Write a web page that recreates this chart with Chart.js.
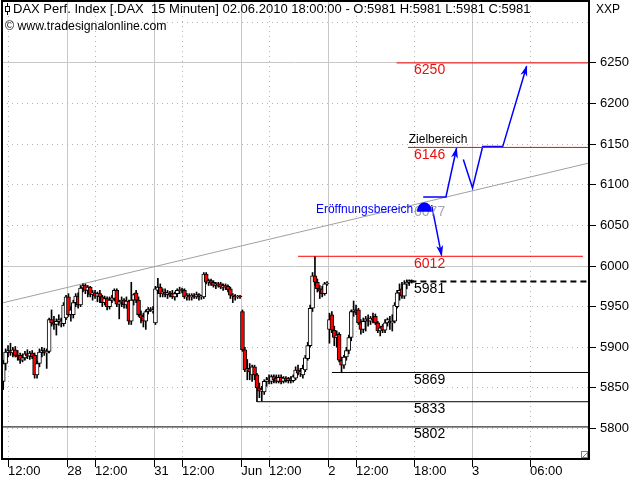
<!DOCTYPE html>
<html><head><meta charset="utf-8">
<script src="https://cdn.jsdelivr.net/npm/chart.js@4.4.1/dist/chart.umd.min.js"></script>
<style>html,body{margin:0;padding:0;background:#fff;overflow:hidden}canvas{display:block}</style>
</head><body>
<canvas id="c" width="640" height="480"></canvas>
<script>
// ---------- DATA (15-minute bars, one slot per bar; future slots continue at 15 min) ----------
const opens = [5858,5880,5894,5896,5893,5897,5890,5890,5884,5887,5892,5889,5893,5890,5866,5880,5894,5896,5893,5895,5934,5930,5928,5932,5930,5929,5936,
5962,5940,5940,5955,5963,5952,5973,5976,5970,5974,5965,5967,5963,5966,5962,5955,5960,5950,5958,5960,5970,5953,5956,5958,5952,5957,5932,5958,5967,5958,5940,5938,5932,5944,5947,5945,
5930,5970,5974,5966,5968,5965,5967,5966,5962,5966,5970,5971,5970,5962,5964,5962,5964,5962,5965,5962,5962,5990,5980,5982,5980,5976,5978,5978,5974,5976,5975,5972,5964,5963,5962,5963,
5944,5897,5872,5874,5866,5876,5866,5850,5846,5845,5858,5860,5858,5864,5862,5858,5863,5858,5862,5859,5862,5859,5862,5872,5868,5866,5872,5886,5902,5948,5988,5980,5972,5972,5966,5978,
5922,5940,5921,5912,5916,5884,5878,5888,5896,5912,5944,5946,5946,5930,5922,5932,5935,5932,5936,5938,5930,5920,5926,5921,5930,5932,5930,5932,5950,5967,5972,5963,5978,5980,5982,5981];
const highs = [5884,5898,5902,5905,5900,5901,5896,5893,5892,5895,5897,5895,5896,5893,5883,5898,5900,5899,5898,5936,5946,5938,5935,5940,5936,5955,5964,
5966,5950,5958,5966,5967,5976,5978,5978,5976,5975,5970,5970,5968,5970,5964,5963,5962,5962,5964,5972,5972,5958,5962,5960,5962,5958,5980,5966,5970,5962,5945,5942,5946,5949,5949,5950,
5975,5985,5978,5972,5972,5970,5969,5970,5968,5972,5974,5973,5972,5966,5966,5966,5966,5968,5966,5964,5992,5992,5984,5984,5982,5980,5980,5980,5978,5978,5977,5974,5966,5965,5964,5964,
5946,5900,5885,5880,5878,5878,5868,5856,5852,5860,5863,5866,5866,5866,5866,5866,5866,5864,5864,5863,5864,5866,5876,5878,5874,5878,5890,5906,5952,5992,6012,5984,5976,5975,5980,5981,
5942,5944,5926,5920,5918,5888,5890,5900,5915,5946,5957,5952,5948,5934,5936,5938,5940,5938,5942,5941,5932,5926,5928,5934,5936,5938,5940,5955,5970,5978,5980,5982,5983,5983,5983,5981];
const lows = [5848,5872,5888,5890,5888,5888,5884,5880,5882,5884,5886,5885,5886,5862,5862,5876,5888,5890,5874,5893,5926,5922,5915,5927,5925,5926,5934,
5938,5932,5936,5950,5948,5950,5968,5966,5962,5962,5958,5960,5956,5955,5950,5952,5946,5947,5955,5957,5950,5935,5950,5948,5948,5928,5928,5952,5955,5938,5930,5925,5922,5941,5944,5942,
5928,5966,5962,5962,5962,5960,5962,5960,5958,5962,5966,5967,5960,5958,5958,5958,5960,5960,5958,5959,5960,5978,5976,5976,5974,5972,5974,5972,5970,5971,5968,5960,5955,5958,5960,5960,
5895,5870,5860,5860,5858,5860,5833,5838,5834,5842,5852,5855,5855,5856,5856,5856,5855,5856,5857,5856,5856,5857,5860,5866,5864,5862,5870,5884,5900,5944,5976,5968,5960,5962,5964,5976,
5905,5918,5902,5900,5882,5869,5874,5884,5892,5908,5938,5940,5928,5916,5918,5920,5926,5928,5930,5928,5918,5914,5918,5918,5926,5922,5920,5930,5948,5958,5960,5960,5972,5976,5979,5981];
const closes = [5880,5894,5896,5893,5897,5890,5888,5884,5887,5892,5889,5893,5888,5866,5880,5894,5896,5893,5895,5934,5930,5928,5932,5934,5932,5952,5962,
5940,5946,5955,5963,5952,5973,5976,5970,5974,5965,5967,5963,5966,5962,5955,5960,5950,5958,5961,5970,5953,5956,5958,5952,5957,5932,5958,5965,5958,5940,5936,5932,5944,5947,5945,5946,
5972,5974,5966,5968,5965,5967,5964,5962,5966,5970,5971,5970,5962,5964,5962,5964,5962,5965,5962,5963,5990,5980,5982,5979,5976,5978,5977,5974,5976,5974,5971,5964,5963,5962,5963,5962,
5897,5872,5874,5870,5876,5866,5850,5846,5848,5858,5860,5862,5864,5860,5858,5863,5858,5862,5859,5861,5859,5864,5872,5868,5870,5874,5887,5902,5948,5988,5980,5972,5969,5966,5978,5979,
5934,5921,5912,5915,5884,5878,5888,5896,5912,5944,5946,5943,5930,5922,5932,5935,5932,5936,5934,5930,5920,5924,5921,5930,5934,5930,5932,5952,5967,5970,5963,5978,5980,5982,5980,5981];

// x-axis ticks (slot positions) and their labels
const xTickSlots  = [2, 26.5, 38, 62.5, 74, 98.5, 110, 134.5, 146, 170, 194, 218];
const xTickLabels = ['12:00','28','12:00','31','12:00','Jun','12:00','2','12:00','18:00','3','06:00'];
const xTickIsDay  = [false,true,false,true,false,true,false,true,false,false,true,false];

// y-axis ticks
const yTickValues = [5800,5850,5900,5950,6000,6050,6100,6150,6200,6250,6300];
const yTickLabels = ['5800','5850','5900','5950','6000','6050','6100','6150','6200','6250',''];

// horizontal levels
const levelValues = [6250, 6146, 6012, 5981, 5869, 5833, 5802];
const levelFrom   = [162.8, 167.5, 122.0, 168.5, 136.0, 105.0, -0.5];
const levelTo     = [242.4, 242.4, 239.9, 242.4, 242.4, 242.4, 242.4];
const levelKind   = ['target','target','target','last','support','support','support'];
const openLevel = 6077;

// trend line
const trendSlots  = [-0.5, 242.4];
const trendValues = [5954.5, 6126.8];

// projected paths (blue arrows)
const pathASlots = [173.8, 183.2, 187.6],               pathAValues = [6085, 6085, 6145];
const pathBSlots = [190.4, 194.2, 198.4, 206.7, 216.6], pathBValues = [6131, 6096, 6147, 6147, 6246];
const pathCSlots = [177.3, 181.4],                      pathCValues = [6075, 6013];
const openMarkSlot = 174.3, openMarkValue = 6066.8;
const zielSlot = 167.8, zielValue = 6151.8;
const eroeffSlot = 169.6, eroeffValue = 6065.2;

// ---------- STYLES ----------
const BLUE = '#0000ff';
const FONT = '"Liberation Sans", Arial, sans-serif';
const kindStyle = {
  target:  {color:'#ff0000', width:1, dash:[], label:'#e81010'},
  last:    {color:'#000000', width:2, dash:[6,4], label:'#000000'},
  support: {color:'#000000', width:1, dash:[], label:'#000000'}
};
const n = closes.length;
const slots = closes.map((_, i) => i);
const LABEL_SLOT = slots[n-1];

const datasets = [];
datasets.push({
  type:'bar', label:'body', order:1, grouped:false, barThickness:4,
  data: slots.map(i => ({x:i, y:[opens[i], closes[i]]})),
  backgroundColor: slots.map(i => closes[i] >= opens[i] ? '#ffffff' : '#ff0000'),
  borderColor:'#000000', borderWidth:1, borderSkipped:false
});
datasets.push({
  type:'bar', label:'wick', order:2, grouped:false, barThickness:1,
  data: slots.map(i => ({x:i, y:[lows[i], highs[i]]})),
  backgroundColor:'#000000', borderWidth:0
});
function lineDs(xs, ys, color, width, dash, order) {
  return {type:'line', order, data: xs.map((x,i)=>({x, y:ys[i]})), borderColor:color, borderWidth:width,
    borderDash:dash, pointRadius:0, fill:false, tension:0, borderCapStyle:'butt'};
}
datasets.push(lineDs(trendSlots, trendValues, '#a0a0a0', 1, [], 3));
levelValues.forEach((v,i) => {
  const s = kindStyle[levelKind[i]];
  datasets.push(lineDs([levelFrom[i], levelTo[i]], [v, v], s.color, s.width, s.dash, 0));
});
const arrowIdx = [];
[[pathASlots,pathAValues],[pathBSlots,pathBValues],[pathCSlots,pathCValues]].forEach(p => {
  arrowIdx.push(datasets.length);
  datasets.push(lineDs(p[0], p[1], BLUE, 1.5, [], 0));
});

const overlay = {
  id:'overlay',
  afterDatasetsDraw(chart) {
    const {ctx, chartArea:a, scales:{x, y}} = chart;
    ctx.save();
    ctx.beginPath(); ctx.rect(a.left, a.top, a.right-a.left, a.bottom-a.top); ctx.clip();
    // arrow heads
    arrowIdx.forEach(di => {
      const pts = chart.getDatasetMeta(di).data;
      const p1 = pts[pts.length-2], p2 = pts[pts.length-1];
      const ang = Math.atan2(p2.y-p1.y, p2.x-p1.x);
      ctx.save(); ctx.translate(p2.x, p2.y); ctx.rotate(ang);
      ctx.beginPath(); ctx.moveTo(1,0); ctx.lineTo(-10,-3.5); ctx.lineTo(-7,0); ctx.lineTo(-10,3.5); ctx.closePath();
      ctx.fillStyle = BLUE; ctx.fill(); ctx.restore();
    });
    // level labels
    const lx = x.getPixelForValue(LABEL_SLOT);
    ctx.font = '14px ' + FONT; ctx.textAlign = 'left'; ctx.textBaseline = 'alphabetic';
    ctx.fillStyle = '#a4a4b8';
    ctx.fillText(String(openLevel), lx, y.getPixelForValue(openLevel) + 12.5);
    levelValues.forEach((v,i) => {
      ctx.fillStyle = kindStyle[levelKind[i]].label;
      ctx.fillText(String(v), lx, y.getPixelForValue(v) + 11.5);
    });
    // opening marker (dome)
    const dx = x.getPixelForValue(openMarkSlot), dy = y.getPixelForValue(openMarkValue);
    ctx.beginPath(); ctx.ellipse(dx, dy, 7.5, 9.5, 0, Math.PI, 2*Math.PI); ctx.closePath();
    ctx.fillStyle = BLUE; ctx.fill();
    // annotation texts
    ctx.font = '12px ' + FONT;
    ctx.fillStyle = BLUE; ctx.textAlign = 'right';
    ctx.fillText('Eröffnungsbereich', x.getPixelForValue(eroeffSlot), y.getPixelForValue(eroeffValue));
    ctx.fillStyle = '#000'; ctx.textAlign = 'left';
    ctx.fillText('Zielbereich', x.getPixelForValue(zielSlot), y.getPixelForValue(zielValue));
    ctx.restore();
  },
  afterDraw(chart) {
    const {ctx, chartArea:a} = chart;
    ctx.save();
    // frame
    ctx.strokeStyle = '#000'; ctx.lineWidth = 2;
    ctx.strokeRect(a.left, a.top, a.right-a.left, a.bottom-a.top);
    // resize grip
    ctx.lineWidth = 1; ctx.strokeStyle = '#808080';
    ctx.strokeRect(a.right-7.5, a.bottom-7.5, 6, 6);
    ctx.beginPath(); ctx.moveTo(a.right-6.5, a.bottom-1.5); ctx.lineTo(a.right-1.5, a.bottom-6.5); ctx.stroke();
    // header icon
    ctx.strokeStyle = '#000'; ctx.beginPath(); ctx.moveTo(7.5, 3); ctx.lineTo(7.5, 15); ctx.stroke();
    ctx.fillStyle = '#fff'; ctx.fillRect(5.5, 6.5, 4, 5); ctx.strokeRect(5.5, 6.5, 4, 5);
    // header texts
    ctx.fillStyle = '#000'; ctx.textAlign = 'left'; ctx.textBaseline = 'alphabetic';
    const last = n-1;
    ctx.font = '13px ' + FONT;
    ctx.fillText('DAX Perf. Index [.DAX  15 Minuten] 02.06.2010 18:00:00 - O:' + opens[last] + ' H:' + highs[last] + ' L:' + lows[last] + ' C:' + closes[last], 13, 13);
    ctx.font = '12.3px ' + FONT;
    ctx.fillText('© www.tradesignalonline.com', 5, 30);
    ctx.font = '12px ' + FONT;
    ctx.fillText('XXP', 596, 13);
    ctx.restore();
  }
};

function noPad(s) { s.paddingTop = 0; s.paddingBottom = 0; s.paddingLeft = 0; s.paddingRight = 0; }

new Chart(document.getElementById('c'), {
  type:'bar',
  data:{datasets},
  options:{
    responsive:false, animation:false, events:[],
    layout:{padding:{left:2, top:1, right:0, bottom:0}},
    plugins:{legend:{display:false}, tooltip:{enabled:false}},
    scales:{
      x:{
        type:'linear', min:-0.5, max:242.4, offset:false, bounds:'data',
        afterBuildTicks: s => { s.ticks = xTickSlots.map(v => ({value:v})); },
        afterFit: s => { s.height = 21; noPad(s); },
        grid:{offset:false, lineWidth:1, color: c => xTickIsDay[c.index] ? '#c8c8c8' : '#b4b4b4',
              tickLength:8, tickColor:'#000', tickBorderDash:[], tickWidth:1},
        border:{display:false, dash: c => xTickIsDay[c.index] ? [] : [1,4]},
        ticks:{autoSkip:false, maxRotation:0, minRotation:0, align:'start', padding:-3, color:'#000',
               font:{family:FONT, size:13}, callback:(v,i) => xTickLabels[i]}
      },
      y:{
        type:'linear', position:'right', min:5762.5, max:6326.2, bounds:'data',
        afterBuildTicks: s => { s.ticks = yTickValues.map(v => ({value:v})); },
        afterFit: s => { s.width = 51; noPad(s); },
        grid:{lineWidth:1, color: c => (yTickValues[c.index] % 250 === 0) ? '#c8c8c8' : '#b4b4b4',
              tickLength:7, tickColor: c => yTickLabels[c.index] ? '#000' : 'rgba(0,0,0,0)', tickBorderDash:[], tickWidth:1},
        border:{display:false, dash: c => (yTickValues[c.index] % 250 === 0) ? [] : [1,4]},
        ticks:{padding:4, color:'#000', font:{family:FONT, size:13}, callback:(v,i) => yTickLabels[i]}
      }
    }
  },
  plugins:[overlay]
});
</script>
</body></html>
